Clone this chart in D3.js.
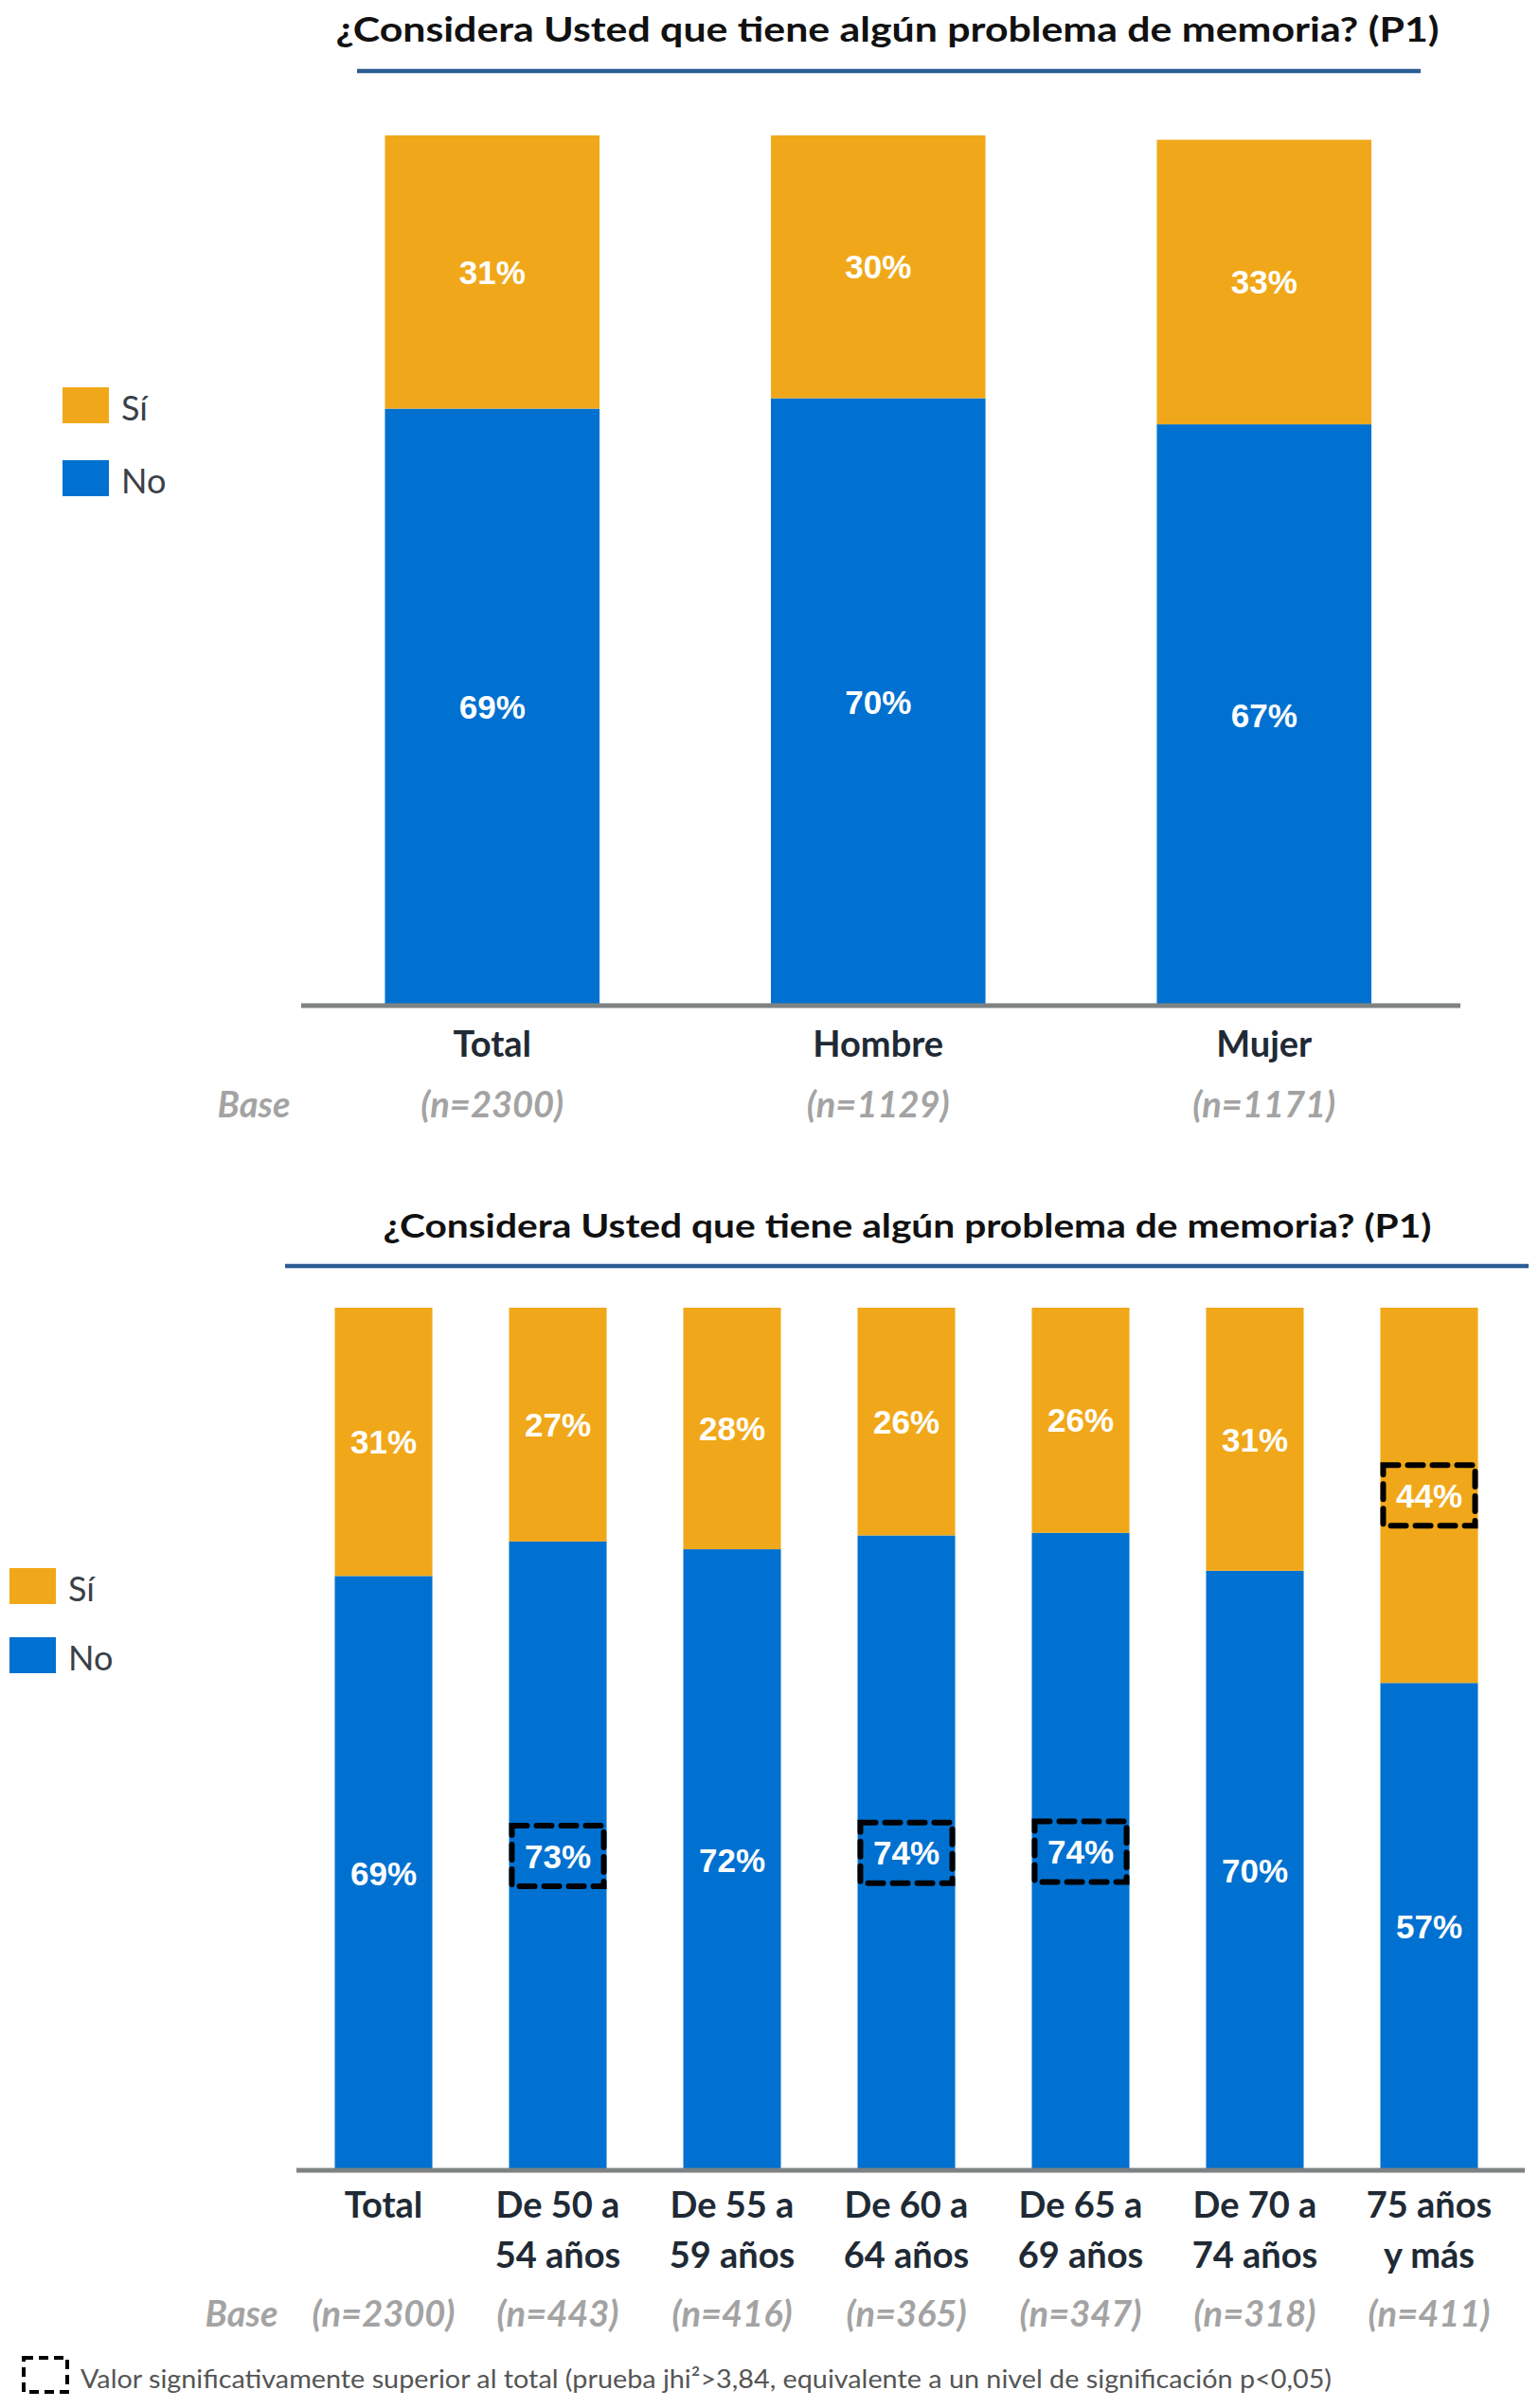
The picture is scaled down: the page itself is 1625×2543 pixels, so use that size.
<!DOCTYPE html>
<html>
<head>
<meta charset="utf-8">
<script src="https://cdn.jsdelivr.net/npm/d3@7"></script>
<style>
  html, body { margin: 0; padding: 0; background: #ffffff; }
  svg { display: block; }
</style>
</head>
<body>
<div id="chart"></div>
<script>
// ---------------- DATA ----------------
const titleText = "¿Considera Usted que tiene algún problema de memoria? (P1)";
const seriesKeys = ["No", "Sí"];
const legendOrder = ["Sí", "No"];
const baseLabel = "Base";

// Chart 1: by sex
const sexCategories = ["Total", "Hombre", "Mujer"];
const sexBases = ["(n=2300)", "(n=1129)", "(n=1171)"];
const sexNo = [68.6, 69.8, 66.8];
const sexSi = [31.4, 30.2, 32.7];

// Chart 2: by age
const ageCategories = ["Total", "De 50 a|54 años", "De 55 a|59 años", "De 60 a|64 años", "De 65 a|69 años", "De 70 a|74 años", "75 años|y más"];
const ageBases = ["(n=2300)", "(n=443)", "(n=416)", "(n=365)", "(n=347)", "(n=318)", "(n=411)"];
const ageNo = [68.9, 72.9, 72.0, 73.6, 73.9, 69.5, 56.5];
const ageSi = [31.1, 27.1, 28.0, 26.4, 26.1, 30.5, 43.5];
const ageNoSignificant = [false, true, false, true, true, false, false];
const ageSiSignificant = [false, false, false, false, false, false, true];

const footnoteText = "Valor significativamente superior al total (prueba jhi²>3,84, equivalente a un nivel de significación p<0,05)";

// ---------------- STYLE ----------------
const colors = { "Sí": "#F0A81A", "No": "#0071D0" };
const darkText = "#1F2A35";
const grayText = "#A3A3A3";

const W = 1625, H = 2543;
const svg = d3.select("#chart").append("svg").attr("width", W).attr("height", H)
  .style("font-family", "Lato, 'Open Sans', sans-serif");

function drawChart(cfg) {
  const g = svg.append("g");
  const rows = cfg.categories.map((c, i) => ({ cat: c, "No": cfg.no[i], "Sí": cfg.si[i], i }));
  const stacked = d3.stack().keys(seriesKeys)(rows);

  const x = d3.scaleBand().domain(cfg.categories).range(cfg.xRange)
    .paddingInner(cfg.padInner).paddingOuter(cfg.padOuter);
  const y = d3.scaleLinear().domain([0, 100]).range([cfg.baseY, cfg.topY]);

  // title + rule
  g.append("text").attr("x", cfg.titleX).attr("y", cfg.titleY)
    .attr("text-anchor", "middle").attr("font-weight", 700)
    .attr("font-size", cfg.titleSize).attr("fill", "#111")
    .attr("textLength", cfg.titleWidth).attr("lengthAdjust", "spacingAndGlyphs")
    .text(titleText);
  g.append("line").attr("x1", cfg.ruleX[0]).attr("x2", cfg.ruleX[1])
    .attr("y1", cfg.ruleY).attr("y2", cfg.ruleY)
    .attr("stroke", "#2B5E95").attr("stroke-width", 4.5);

  // bars
  const layer = g.selectAll("g.layer").data(stacked).join("g")
    .attr("class", "layer").attr("fill", d => colors[d.key]);
  layer.selectAll("rect").data(d => d).join("rect")
    .attr("x", d => x(d.data.cat))
    .attr("width", x.bandwidth())
    .attr("y", d => y(d[1]))
    .attr("height", d => y(d[0]) - y(d[1]));

  // value labels
  stacked.forEach(s => {
    g.selectAll(null).data(s).join("text")
      .attr("x", d => x(d.data.cat) + x.bandwidth() / 2)
      .attr("y", d => (y(d[0]) + y(d[1])) / 2)
      .attr("dy", "0.36em")
      .attr("text-anchor", "middle")
      .attr("font-family", "'Liberation Sans', Arial, sans-serif")
      .attr("font-weight", 700).attr("font-size", 35).attr("fill", "#fff")
      .text(d => Math.round(d[1] - d[0]) + "%");
    // significance boxes
    const sig = s.key === "No" ? cfg.sigNo : cfg.sigSi;
    if (sig) {
      g.selectAll(null).data(s.filter((d, i) => sig[i])).join("rect")
        .attr("x", d => x(d.data.cat) + 3)
        .attr("width", x.bandwidth() - 6)
        .attr("y", d => (y(d[0]) + y(d[1])) / 2 - 32)
        .attr("height", 64)
        .attr("fill", "none").attr("stroke", "#000")
        .attr("stroke-width", 6).attr("stroke-dasharray", "16 10")
        .attr("stroke-linecap", "round");
    }
  });

  // axis baseline
  g.append("line").attr("x1", cfg.axisX[0]).attr("x2", cfg.axisX[1])
    .attr("y1", cfg.baseY).attr("y2", cfg.baseY)
    .attr("stroke", "#7F8282").attr("stroke-width", 5);

  // category labels
  const catG = g.selectAll("text.cat").data(cfg.categories).join("text")
    .attr("class", "cat")
    .attr("x", d => x(d) + x.bandwidth() / 2)
    .attr("y", cfg.catY)
    .attr("text-anchor", "middle").attr("font-weight", 700)
    .attr("font-size", cfg.catSize).attr("fill", darkText);
  catG.selectAll("tspan").data(d => d.split("|")).join("tspan")
    .attr("x", function () { return d3.select(this.parentNode).attr("x"); })
    .attr("dy", (d, i) => i === 0 ? 0 : cfg.catLine)
    .text(d => d);

  // base labels
  g.append("text").attr("x", cfg.baseLabelX).attr("y", cfg.baseRowY)
    .attr("text-anchor", "middle").attr("font-style", "italic").attr("font-weight", 700)
    .attr("font-size", 38).attr("fill", grayText).text(baseLabel);
  g.selectAll("text.base").data(cfg.bases).join("text")
    .attr("class", "base")
    .attr("x", (d, i) => x(cfg.categories[i]) + x.bandwidth() / 2)
    .attr("y", cfg.baseRowY)
    .attr("text-anchor", "middle").attr("font-style", "italic").attr("font-weight", 700)
    .attr("font-size", 38).attr("fill", grayText).text(d => d);

  // legend
  const lg = g.selectAll("g.leg").data(legendOrder).join("g").attr("class", "leg")
    .attr("transform", (d, i) => `translate(${cfg.legendX},${cfg.legendY + i * cfg.legendGap})`);
  lg.append("rect").attr("width", 49).attr("height", 38).attr("fill", d => colors[d]);
  lg.append("text").attr("x", 62).attr("y", 35)
    .attr("font-size", 36).attr("fill", "#3A4047").text(d => d);
}

drawChart({
  categories: sexCategories, bases: sexBases, no: sexNo, si: sexSi,
  xRange: [316, 1538.5], padInner: 0.444, padOuter: 0.222,
  topY: 143, baseY: 1062,
  titleX: 937, titleY: 44, titleSize: 36, titleWidth: 1165,
  ruleX: [377, 1500], ruleY: 75,
  axisX: [318, 1542],
  catY: 1116, catSize: 38, catLine: 53,
  baseLabelX: 268, baseRowY: 1180,
  legendX: 66, legendY: 409, legendGap: 77
});

drawChart({
  categories: ageCategories, bases: ageBases, no: ageNo, si: ageSi,
  sigNo: ageNoSignificant, sigSi: ageSiSignificant,
  xRange: [313, 1601], padInner: 0.44, padOuter: 0.22,
  topY: 1381, baseY: 2292,
  titleX: 958, titleY: 1307, titleSize: 35, titleWidth: 1107,
  ruleX: [301, 1614], ruleY: 1337,
  axisX: [313, 1610],
  catY: 2342, catSize: 38, catLine: 53,
  baseLabelX: 255, baseRowY: 2457,
  legendX: 10, legendY: 1656, legendGap: 73
});

// footnote
const fn = svg.append("g");
fn.append("rect").attr("x", 25).attr("y", 2490).attr("width", 46).attr("height", 36)
  .attr("fill", "none").attr("stroke", "#000").attr("stroke-width", 4)
  .attr("stroke-dasharray", "10 6");
fn.append("text").attr("x", 85).attr("y", 2522)
  .attr("font-size", 27).attr("fill", "#555")
  .attr("textLength", 1321).attr("lengthAdjust", "spacingAndGlyphs")
  .text(footnoteText);
</script>
</body>
</html>
